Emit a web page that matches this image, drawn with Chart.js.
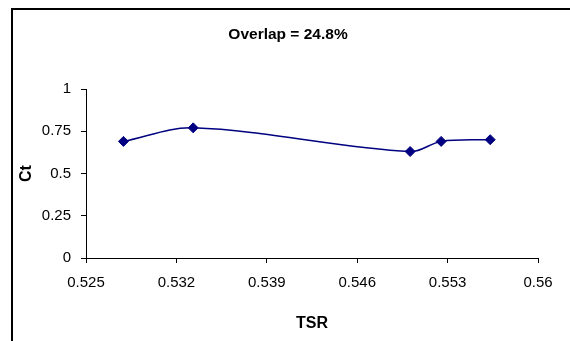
<!DOCTYPE html>
<html>
<head>
<meta charset="utf-8">
<script src="https://cdn.jsdelivr.net/npm/chart.js@4"></script>
<style>
  body { margin: 0; background: #fff; }
  #wrap { position: relative; width: 570px; height: 341px; }
  #frame { position: absolute; left: 11px; top: 8px; right: 0; bottom: 0; border-top: 2px solid #000; border-left: 2px solid #000; }
  #ctChart { position: absolute; left: 0; top: 0; }
</style>
</head>
<body>
<div id="wrap">
  <div id="frame"></div>
  <canvas id="ctChart" width="570" height="341"></canvas>
</div>
<script>
const tsr = [0.5279, 0.5333, 0.5501, 0.5525, 0.5563];
const ct = [0.69, 0.77, 0.63, 0.69, 0.70];
const xTicks = [0.525, 0.532, 0.539, 0.546, 0.553, 0.56];
const yTicks = [0, 0.25, 0.5, 0.75, 1];
const chartTitle = 'Overlap = 24.8%';

const family = "'Liberation Sans', Arial, sans-serif";
const font = { family: family, size: 15 };
const bold = { family: family, size: 16, weight: 'bold' };

// heading centred over the whole framed box, not just the plot area
const headingPlugin = {
  id: 'heading',
  afterDraw(chart) {
    const c = chart.ctx;
    c.save();
    c.font = 'bold 15.5px ' + family;
    c.fillStyle = '#000';
    c.textAlign = 'center';
    c.textBaseline = 'middle';
    c.fillText(chartTitle, 288, 35);
    c.restore();
  }
};

const ctx = document.getElementById('ctChart').getContext('2d');
const ctChart = new Chart(ctx, {
  type: 'line',
  data: {
    datasets: [{
      data: tsr.map((x, i) => ({ x: x, y: ct[i] })),
      borderColor: '#000080',
      borderWidth: 1.5,
      backgroundColor: '#000080',
      pointStyle: 'rectRot',
      pointRadius: 5,
      pointBorderWidth: 1,
      tension: 0.35,
      fill: false
    }]
  },
  options: {
    responsive: false,
    animation: false,
    layout: { padding: { left: 6, right: 32, top: 89, bottom: 0 } },
    plugins: {
      legend: { display: false },
      tooltip: { enabled: false },
      title: { display: false }
    },
    scales: {
      x: {
        type: 'linear',
        min: 0.525,
        max: 0.56,
        afterBuildTicks: s => { s.ticks = xTicks.map(v => ({ value: v })); },
        afterFit: s => { s.height = 83; },
        ticks: {
          color: '#000',
          font: font,
          padding: 11,
          maxRotation: 0,
          callback: v => String(v)
        },
        grid: { drawOnChartArea: false, tickLength: 5, color: '#000' },
        border: { color: '#000', width: 1 },
        title: {
          display: true,
          text: 'TSR',
          color: '#000',
          font: bold,
          padding: { top: 20, bottom: 8 }
        }
      },
      y: {
        min: 0,
        max: 1,
        afterBuildTicks: s => { s.ticks = yTicks.map(v => ({ value: v })); },
        afterFit: s => { s.width = 80; },
        ticks: {
          color: '#000',
          font: font,
          padding: 10,
          callback: v => String(v)
        },
        grid: { drawOnChartArea: false, tickLength: 5, color: '#000' },
        border: { color: '#000', width: 1 },
        title: {
          display: true,
          text: 'Ct',
          color: '#000',
          font: bold,
          padding: { top: 11, bottom: 6 }
        }
      }
    }
  },
  plugins: [headingPlugin]
});
</script>
</body>
</html>
